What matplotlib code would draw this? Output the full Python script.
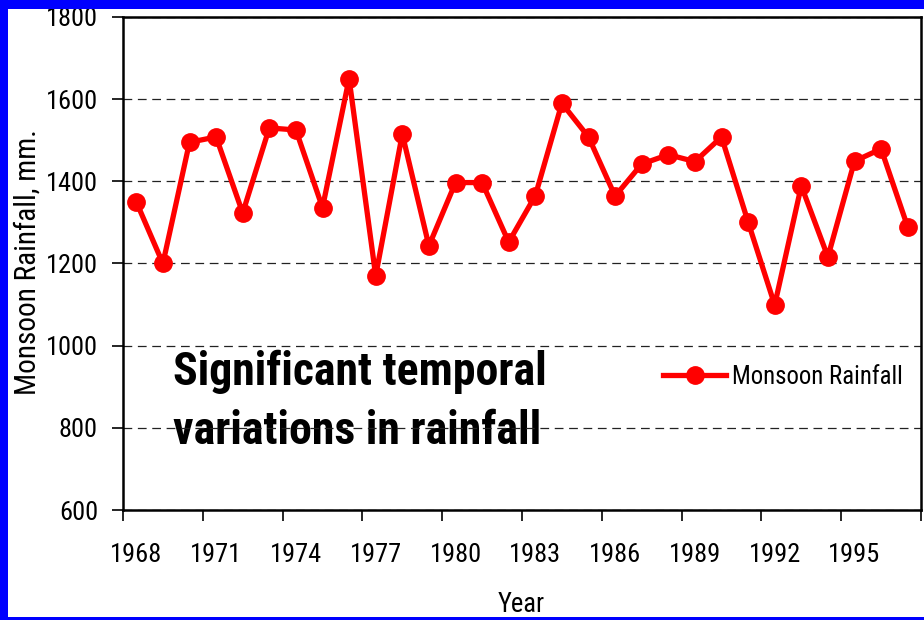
import numpy as np
import matplotlib
matplotlib.use("Agg")
import matplotlib.pyplot as plt
from matplotlib.patches import Rectangle
from matplotlib import font_manager as fm

years = list(range(1968, 1998))
rainfall = [1350, 1200, 1495, 1508, 1323, 1530, 1525, 1336, 1650, 1170,
            1515, 1243, 1397, 1397, 1252, 1365, 1590, 1508, 1364, 1442,
            1465, 1448, 1508, 1301, 1099, 1389, 1216, 1449, 1479, 1289]
label_years = list(range(1968, 1998, 3))
yticks = [600, 800, 1000, 1200, 1400, 1600, 1800]

# pick an Arial-Narrow-like font that is installed
avail = {}
for f in fm.fontManager.ttflist:
    w = f.weight if isinstance(f.weight, int) else 400
    avail.setdefault(f.name, set()).add(w)
prefs = ['Liberation Sans Narrow', 'Nimbus Sans Narrow', 'Arial Narrow',
         'Roboto Condensed', 'PT Sans Narrow', 'Archivo Narrow', 'Asap Condensed']
NARROW = next((p for p in prefs if p in avail), 'DejaVu Sans')
BOLDFONT = next((p for p in prefs if p in avail and max(avail[p]) >= 600), NARROW)
plt.rcParams['font.family'] = [NARROW, 'DejaVu Sans']

fig = plt.figure(figsize=(9.24, 6.2), dpi=100)
fig.patch.set_facecolor('white')
renderer = fig.canvas.get_renderer()


def fit_size(s, target_px, **kw):
    t = fig.text(0, 0, s, fontsize=20, **kw)
    w = t.get_window_extent(renderer).width
    t.remove()
    return 20.0 * target_px / w


tick_fs = fit_size('1968', 52)
ylab_fs = fit_size('Monsoon Rainfall, mm.', 266)
leg_fs = fit_size('Monsoon Rainfall', 171)
year_fs = fit_size('Year', 47)
ann_fs = fit_size('Significant temporal', 373, family=[BOLDFONT, 'DejaVu Sans'], fontweight='bold')

ax = fig.add_axes([123/924, 1 - 510/620, (921-123)/924, (510-17)/620])

ax.plot(years, rainfall, color='#FF0000', lw=3.8, marker='o', ms=12.5,
        mec='#FF0000', mfc='#FF0000', label='Monsoon Rainfall', zorder=3,
        clip_on=False)

ax.set_xlim(1967.5, 1997.5)
ax.set_ylim(600, 1800)

# category boundaries as tick marks, labels at category centres
ax.set_xticks(np.arange(1967.5, 1998, 3))
ax.set_xticklabels([])
ax.tick_params(axis='x', which='major', direction='out', length=8, width=1.2, color='black')
ax.set_xticks(label_years, minor=True)
ax.set_xticklabels([str(y) for y in label_years], minor=True)
ax.tick_params(axis='x', which='minor', length=0, pad=24, labelsize=tick_fs)

ax.set_yticks(yticks)
ax.set_yticklabels([str(v) for v in yticks])
ax.tick_params(axis='y', direction='out', length=8, width=1.2, pad=10, labelsize=tick_fs)

ax.yaxis.grid(True, color='#222222', lw=0.9, linestyle=(0, (7, 4.5)))
ax.set_axisbelow(True)

for s in ax.spines.values():
    s.set_linewidth(1.8)
    s.set_color('black')

ax.set_ylabel('Monsoon Rainfall, mm.', fontsize=ylab_fs)
ax.yaxis.set_label_coords(-0.1015, 0.503)
ax.set_xlabel('Year', fontsize=year_fs, va='top')
ax.xaxis.set_label_coords(0.4987, -0.1643)

ann_kw = dict(transform=ax.transAxes, fontsize=ann_fs, fontweight='bold',
              family=[BOLDFONT, 'DejaVu Sans'], ha='left', va='baseline', zorder=0.4)
ax.text(0.0627, 0.2535, 'Significant temporal', **ann_kw)
ax.text(0.0627, 0.1339, 'variations in rainfall', **ann_kw)

leg_px = leg_fs * 100 / 72.0
leg = ax.legend(loc='center left', bbox_to_anchor=(0.6767, 0.2698), frameon=False,
                fontsize=leg_fs, handlelength=63 / leg_px, handletextpad=6 / leg_px,
                borderpad=0, borderaxespad=0)

# blue slide frame
for (x0, y0, w, h) in [(0, 611/620, 1, 9/620), (0, 0, 8/924, 1), (0, 0, 1, 3/620)]:
    fig.add_artist(Rectangle((x0, y0), w, h, transform=fig.transFigure,
                             facecolor='#0000FF', edgecolor='none', zorder=10))

fig.savefig('out.png', dpi=100)
